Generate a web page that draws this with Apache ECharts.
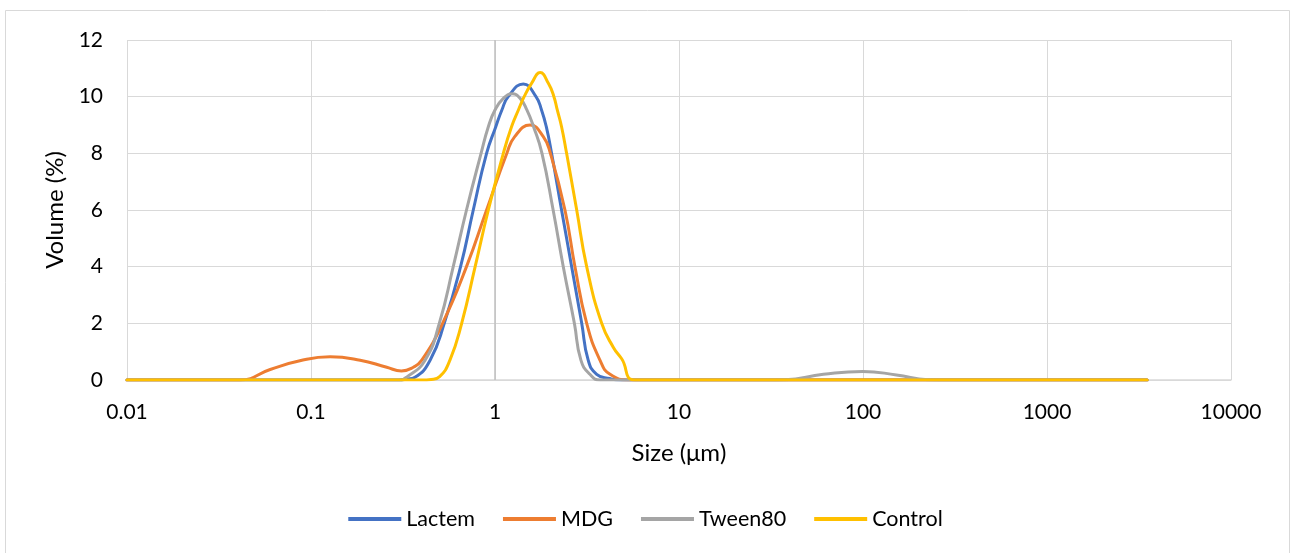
<!DOCTYPE html>
<html>
<head>
<meta charset="utf-8">
<script src="https://cdn.jsdelivr.net/npm/echarts@6/dist/echarts.min.js"></script>
<style>
  html, body { margin: 0; padding: 0; background: #fff; }
  #chart { width: 1291px; height: 553px; }
</style>
</head>
<body>
<div id="chart"></div>
<script>
// Particle size distributions (size in µm, volume in %)
const lactemSize = [0.01, 0.3, 0.33, 0.367, 0.444, 0.53, 0.65, 0.762, 0.90, 1.01, 1.09, 1.18, 1.425, 1.67, 1.79, 1.90, 2.03, 2.30, 2.61, 2.96, 3.21, 3.57, 4.2, 4.8, 3500];
const lactemVol  = [0, 0, 0.03, 0.1, 0.7, 2, 4, 6, 8, 8.94, 9.53, 10, 10.45, 10, 9.53, 8.94, 8, 6, 4, 2, 0.7, 0.2, 0.05, 0, 0];

const mdgSize = [0.01, 0.041, 0.06, 0.087, 0.127, 0.185, 0.258, 0.31, 0.36, 0.40, 0.519, 0.70, 0.90, 1.16, 1.28, 1.55, 1.83, 2.0, 2.40, 2.72, 3.15, 3.72, 4.22, 5.4, 3500];
const mdgVol  = [0, 0, 0.37, 0.68, 0.82, 0.7, 0.45, 0.32, 0.45, 0.7, 2, 4, 6, 8, 8.59, 9.0, 8.59, 8, 6, 4, 2, 0.7, 0.2, 0, 0];

const tweenSize = [0.01, 0.3, 0.331, 0.417, 0.498, 0.593, 0.70, 0.84, 0.92, 1.0, 1.11, 1.24, 1.37, 1.49, 1.62, 1.80, 2.07, 2.35, 2.70, 2.93, 3.28, 3.72, 30, 37.7, 60.9, 99.6, 152, 226, 300, 3500];
const tweenVol  = [0, 0, 0.1, 0.7, 2, 4, 6, 8, 8.94, 9.53, 9.94, 10.1, 9.94, 9.53, 8.94, 8, 6, 4, 2, 0.7, 0.2, 0, 0, 0.01, 0.2, 0.3, 0.18, 0.01, 0, 0];

const controlSize = [0.01, 0.4, 0.45, 0.50, 0.569, 0.659, 0.78, 0.92, 1.11, 1.23, 1.34, 1.44, 1.58, 1.76, 1.95, 2.09, 2.18, 2.30, 2.45, 2.78, 3.15, 3.80, 4.4, 4.88, 5.8, 3500];
const controlVol  = [0, 0, 0.02, 0.12, 0.7, 2, 4, 6, 8, 8.94, 9.53, 10, 10.47, 10.85, 10.47, 10, 9.53, 8.94, 8, 6, 4, 2, 1.15, 0.75, 0, 0];

const seriesNames  = ['Lactem', 'MDG', 'Tween80', 'Control'];
const seriesColors = ['#4472C4', '#ED7D31', '#A5A5A5', '#FFC000'];

const sizeTicks = [0.01, 0.1, 1, 10, 100, 1000, 10000];
const volumeTicks = [0, 2, 4, 6, 8, 10, 12];

const pairs = (xs, ys) => xs.map((x, i) => [x, ys[i]]);
const datasets = [
  pairs(lactemSize, lactemVol),
  pairs(mdgSize, mdgVol),
  pairs(tweenSize, tweenVol),
  pairs(controlSize, controlVol)
];

const font = 'Lato';
const chart = echarts.init(document.getElementById('chart'), null, { renderer: 'canvas' });

const series = datasets.map((d, i) => ({
  name: seriesNames[i],
  type: 'line',
  data: d,
  smooth: 0.5,
  symbol: 'none',
  lineStyle: { width: 3, color: seriesColors[i], cap: 'round', join: 'round' },
  itemStyle: { color: seriesColors[i] },
  z: 3 + i
}));

// vertical axis crossing at 1 µm
series[0].markLine = {
  silent: true,
  symbol: 'none',
  label: { show: false },
  lineStyle: { color: '#bfbfbf', width: 1.5, type: 'solid' },
  data: [{ xAxis: 1 }],
  z: 1
};

chart.setOption({
  animation: false,
  backgroundColor: '#fff',
  graphic: [{
    type: 'rect',
    shape: { x: 5.5, y: 10.5, width: 1284, height: 560 },
    style: { fill: 'none', stroke: '#d9d9d9', lineWidth: 1 },
    silent: true,
    z: -1
  }],
  grid: { left: 127, right: 60, top: 40, bottom: 173, containLabel: false },
  legend: {
    data: seriesNames,
    bottom: 18,
    left: 'center',
    icon: 'rect',
    itemWidth: 53,
    itemHeight: 4,
    itemGap: 28,
    textStyle: { fontFamily: font, fontSize: 21.5, color: '#000' }
  },
  xAxis: {
    type: 'log',
    logBase: 10,
    min: sizeTicks[0],
    max: sizeTicks[sizeTicks.length - 1],
    name: 'Size (μm)',
    nameLocation: 'middle',
    nameGap: 61,
    nameTextStyle: { fontFamily: font, fontSize: 24, color: '#000' },
    axisLine: { show: true, lineStyle: { color: '#d9d9d9', width: 1.5 } },
    axisTick: { show: false },
    splitLine: { show: true, lineStyle: { color: '#d9d9d9', width: 1 } },
    minorSplitLine: { show: false },
    axisLabel: {
      fontFamily: font, fontSize: 21, color: '#000', margin: 22,
      formatter: v => {
        const t = sizeTicks.find(s => Math.abs(Math.log10(s) - Math.log10(v)) < 1e-6);
        return t !== undefined ? String(t) : '';
      }
    }
  },
  yAxis: {
    type: 'value',
    min: volumeTicks[0],
    max: volumeTicks[volumeTicks.length - 1],
    interval: 2,
    name: 'Volume (%)',
    nameLocation: 'middle',
    nameGap: 38,
    nameTextStyle: { fontFamily: font, fontSize: 24, color: '#000' },
    axisLine: { show: false },
    axisTick: { show: false },
    splitLine: { show: true, lineStyle: { color: '#d9d9d9', width: 1 } },
    axisLabel: { fontFamily: font, fontSize: 21, color: '#000', margin: 24 }
  },
  series
});
</script>
</body>
</html>
